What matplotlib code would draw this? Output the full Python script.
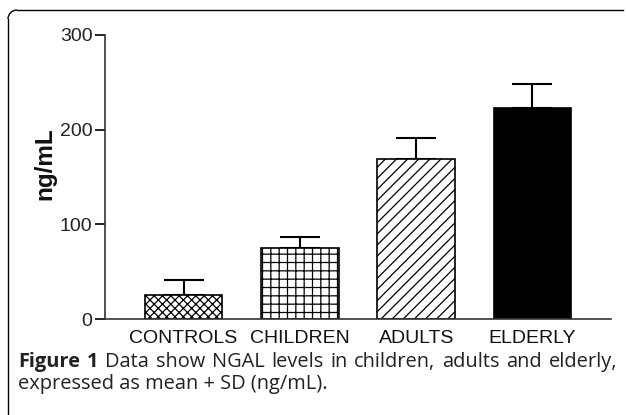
import matplotlib.pyplot as plt
import numpy as np
from matplotlib.lines import Line2D
from matplotlib.patches import Arc

plt.rcParams['font.family'] = ['Liberation Sans', 'DejaVu Sans']
plt.rcParams['hatch.linewidth'] = 0.9

groups = ["CONTROLS", "CHILDREN", "ADULTS", "ELDERLY"]
means = [25, 75.5, 168.5, 223]
sds = [16.5, 11, 22.5, 25.5]
hatches = ["xxxx", "++", "///", None]
fills = ["white", "white", "white", "black"]
yticks = [0, 100, 200, 300]

caption_line1 = "Figure 1 Data show NGAL levels in children, adults and elderly,"
caption_line2 = "expressed as mean + SD (ng/mL)."

W, H = 627, 415
fig = plt.figure(figsize=(W / 100, H / 100), dpi=100)
ax = fig.add_axes([105 / W, 1 - 319 / H, (611 - 105) / W, (319 - 35) / H])

x = np.arange(len(groups))
for i in range(len(groups)):
    ax.bar(x[i], means[i], width=0.67, color=fills[i], edgecolor="black",
           linewidth=1.2, hatch=hatches[i], zorder=2)
ax.errorbar(x, means, yerr=[np.zeros(len(sds)), sds], fmt="none", ecolor="black",
            elinewidth=1.5, capsize=14.5, capthick=1.5, zorder=1)

ax.set_xlim(-0.675, 3.675)
ax.set_ylim(0, 300)
ax.set_yticks(yticks)
ax.set_yticklabels([str(v) for v in yticks], fontsize=14, color="#222222")
ax.set_xticks(x)
ax.set_xticklabels(groups, fontsize=14, color="#111111")
ax.tick_params(axis="x", length=0, pad=8)
ax.tick_params(axis="y", length=7, width=1.2, pad=2)
for s in ["top", "right"]:
    ax.spines[s].set_visible(False)
for s in ["left", "bottom"]:
    ax.spines[s].set_linewidth(1.2)
    ax.spines[s].set_color("#333333")
fig.text(45 / W, 1 - 164 / H, "ng/mL", fontsize=17.5, fontweight="bold", rotation=90,
         ha="center", va="center", color="#111111")

# page frame with rounded top-left corner
r = 9
fig.add_artist(Line2D([8 / W, 8 / W], [0, 1 - (10 + r) / H], color="black", lw=1.0,
                      transform=fig.transFigure))
fig.add_artist(Line2D([(8 + r) / W, 623 / W], [1 - 10 / H, 1 - 10 / H], color="black",
                      lw=1.0, transform=fig.transFigure))
fig.add_artist(Arc(((8 + r) / W, 1 - (10 + r) / H), 2 * r / W, 2 * r / H, theta1=90,
                   theta2=180, color="black", lw=1.0, transform=fig.transFigure))

# caption, first line justified between the frame margins
cap_font = ['Open Sans', 'DejaVu Sans']
cap_size = 14.4
words = caption_line1.split(" ")
renderer = fig.canvas.get_renderer()
texts, widths = [], []
for k, w in enumerate(words):
    t = fig.text(0, 1 - 362 / H, w, fontsize=cap_size, family=cap_font, va="center",
                 color="#222222", fontweight="bold" if k < 2 else "normal")
    texts.append(t)
    widths.append(t.get_window_extent(renderer).width)
gap = (617 - 18 - sum(widths)) / (len(words) - 1)
pos = 18
for t, wd in zip(texts, widths):
    t.set_x(pos / W)
    pos += wd + gap
fig.text(18 / W, 1 - 384 / H, caption_line2, fontsize=cap_size, family=cap_font,
         va="center", color="#222222")

fig.savefig("out.png", dpi=100)
